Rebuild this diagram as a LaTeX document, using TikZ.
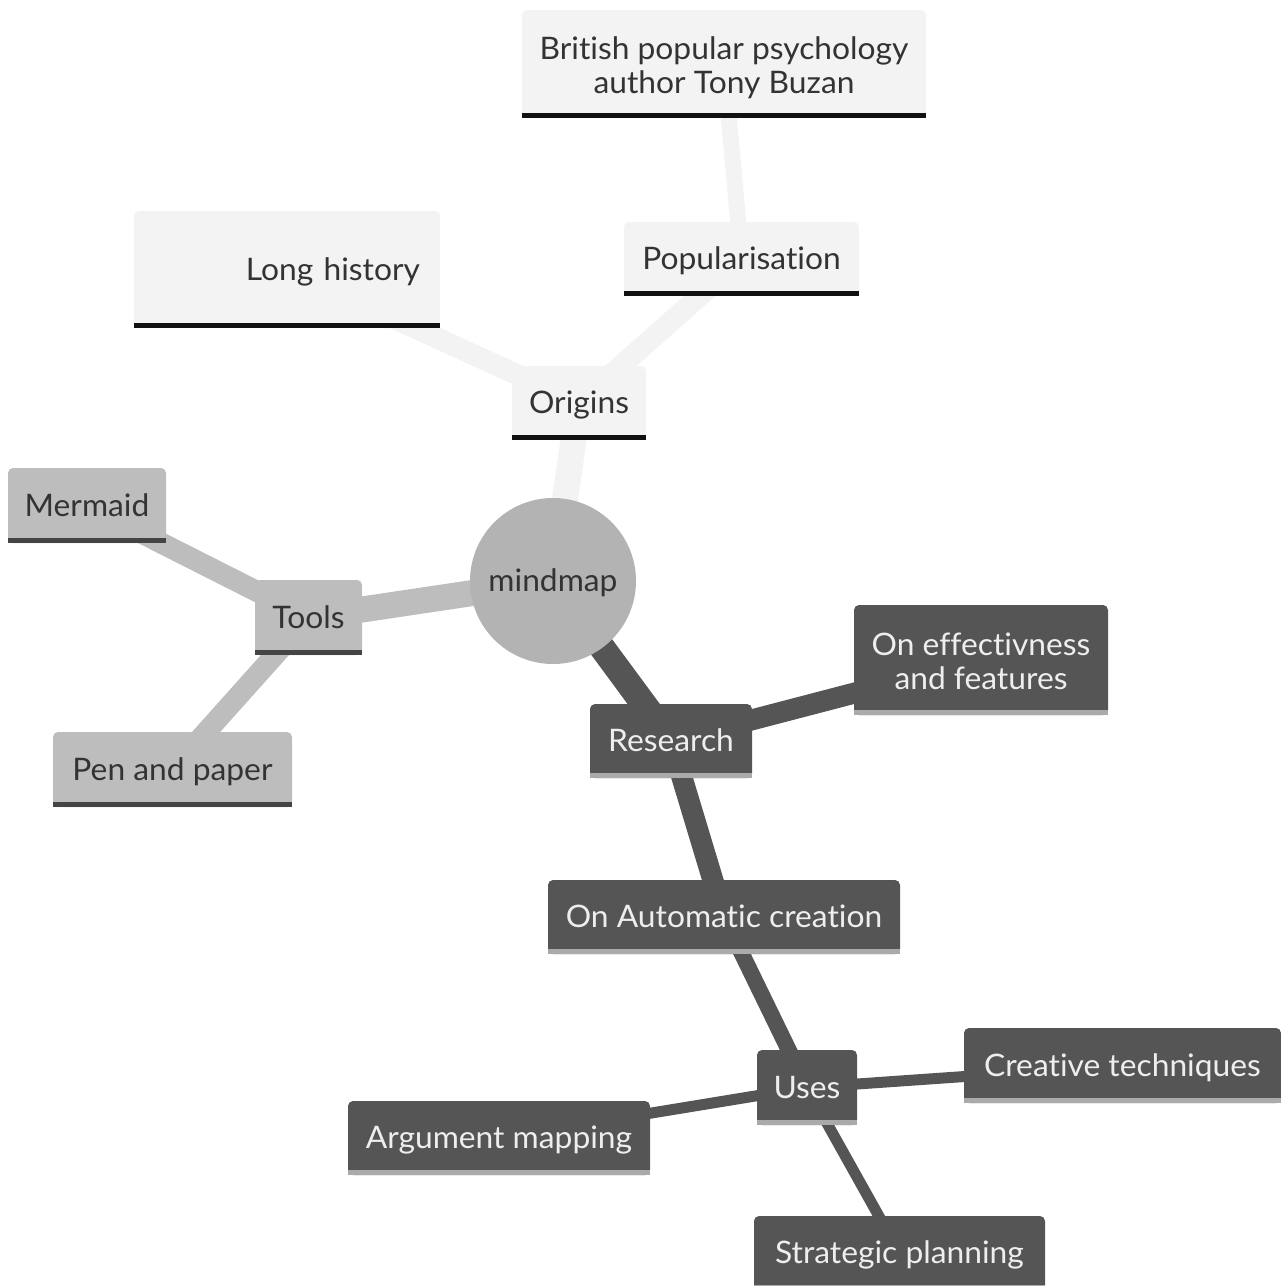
\documentclass[tikz,border=0pt]{standalone}
\usepackage{fontspec}
\setmainfont{Lato}[Ligatures={NoCommon}, FakeStretch=1.025]
\usetikzlibrary{backgrounds}
\definecolor{paleback}{HTML}{F3F3F3}
\definecolor{toolgray}{HTML}{BDBDBD}
\definecolor{rootgray}{HTML}{B3B3B3}
\definecolor{darkgray}{HTML}{555555}
\definecolor{inkgray}{HTML}{333333}
\definecolor{paleink}{HTML}{EEEEEE}
\definecolor{lineblack}{HTML}{111111}
\definecolor{linedark}{HTML}{444444}
\definecolor{linelight}{HTML}{AAAAAA}
\newcommand{\toprule}{\rule{0pt}{31.5pt}}
\tikzset{
	label text/.style={
		inner sep=0pt,
		align=center,
		font=\fontsize{31}{34}\selectfont,
		execute at begin node={\rule{0pt}{28pt}},
		execute at end node={\rule[-7pt]{0pt}{7pt}}
	},
	topic/.style={label text, rounded corners=5pt},
	origin/.style={topic, fill=paleback, text=inkgray},
	tool/.style={topic, fill=toolgray, text=inkgray},
	study/.style={topic, fill=darkgray, text=paleink},
	uline/.style={line width=5pt, draw=#1}
}

\begin{document}
\begin{tikzpicture}[x=1pt, y=-1pt]
	\tikzset{link/.style={line width=#1}}
	\useasboundingbox (0,0) rectangle (1281,1286);
	
	\node(root) at (553,581) [label text, circle, fill=rootgray, text=inkgray, minimum size=166pt] {mindmap};
	
	% origins branch
	\node(origins) at (579,403) [origin, minimum width=134pt, minimum height=74pt] {Origins};
	\node(longh) at (287,269.5) [origin, minimum width=306pt, minimum height=117pt, text width=266pt, inner xsep=20pt, align=right] {Long history};
	\node(popul) at (741.5,259) [origin, minimum width=235pt, minimum height=74pt] {Popularisation};
	\node(buzan) at (724,64) [origin, minimum width=404pt, minimum height=108pt] {\toprule British popular psychology\\author Tony Buzan};
	
	% tools branch
	\node(tools) at (308.5,617.5) [tool, minimum width=107pt, minimum height=75pt] {Tools};
	\node(mermaid) at (87,505.5) [tool, minimum width=158pt, minimum height=75pt] {Mermaid};
	\node(pen) at (172.5,769.5) [tool, minimum width=239pt, minimum height=75pt] {Pen and paper};
	
	% research branch
	\node(research) at (671,741) [study, minimum width=162pt, minimum height=74pt] {Research};
	\node(effect) at (981,660) [study, minimum width=254pt, minimum height=110pt] {\toprule On effectivness\\and features};
	\node(auto) at (724,917) [study, minimum width=352pt, minimum height=74pt] {On Automatic creation};
	\node(uses) at (807,1087.5) [study, minimum width=100pt, minimum height=75pt] {Uses};
	\node(creative) at (1122.5,1065.5) [study, minimum width=317pt, minimum height=75pt] {Creative techniques};
	\node(argument) at (499,1138) [study, minimum width=302pt, minimum height=74pt] {Argument mapping};
	\node(strategic) at (899.5,1253) [study, minimum width=291pt, minimum height=74pt] {Strategic planning};
	
	\foreach \n/\c in {origins/lineblack, longh/lineblack, popul/lineblack, buzan/lineblack,
		tools/linedark, mermaid/linedark, pen/linedark,
		research/linelight, effect/linelight, auto/linelight, uses/linelight,
		creative/linelight, argument/linelight, strategic/linelight}
		\draw[uline=\c] ([yshift=2.5pt]\n.south west) -- ([yshift=2.5pt]\n.south east);
	
	\begin{pgfonlayer}{background}
		\draw[link=26pt, paleback] (root.center) -- (origins.center);
		\draw[link=21pt, paleback] (origins.center) -- (longh.center);
		\draw[link=21pt, paleback] (origins.center) -- (popul.center);
		\draw[link=16pt, paleback] (popul.center) -- (buzan.center);
		
		\draw[link=26pt, toolgray] (root.center) -- (tools.center);
		\draw[link=21pt, toolgray] (tools.center) -- (mermaid.center);
		\draw[link=21pt, toolgray] (tools.center) -- (pen.center);
		
		\draw[link=26pt, darkgray] (root.center) -- (research.center);
		\draw[link=21pt, darkgray] (research.center) -- (effect.center);
		\draw[link=21pt, darkgray] (research.center) -- (auto.center);
		\draw[link=16pt, darkgray] (auto.center) -- (uses.center);
		\draw[link=11pt, darkgray] (uses.center) -- (creative.center);
		\draw[link=11pt, darkgray] (uses.center) -- (argument.center);
		\draw[link=11pt, darkgray] (uses.center) -- (strategic.center);
	\end{pgfonlayer}
\end{tikzpicture}
\end{document}
